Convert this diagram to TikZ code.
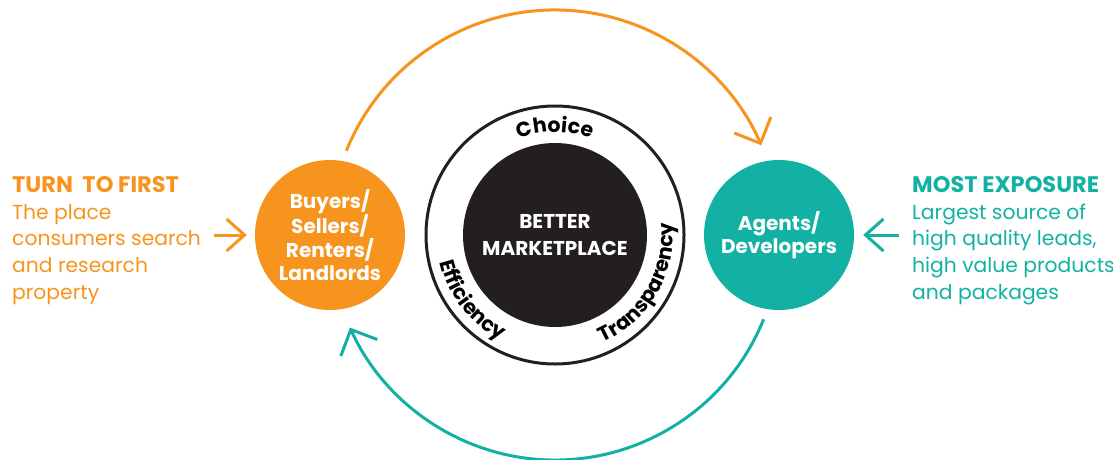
\documentclass[tikz,border=0pt]{standalone}
\usepackage{fontspec}
\setmainfont{Poppins}
\usetikzlibrary{positioning, arrows.meta, decorations.text}
\definecolor{brandorange}{HTML}{F7941D}
\definecolor{brandteal}{HTML}{13B1A3}
\definecolor{ink}{HTML}{231F20}
\newcommand{\blurbhead}[1]{{\bfseries\fontsize{22.5}{27}\selectfont #1}}

\begin{document}
\begin{tikzpicture}[x=1pt, y=1pt,
    hub/.style={circle, inner sep=0pt, minimum size=150pt, text=white, align=center, font=\bfseries\fontsize{20}{23.5}\selectfont},
    feed/.style={line width=3pt, -{Straight Barb[length=18pt, width=32pt]}},
    swing/.style={line width=3pt, -{Straight Barb[length=20pt, width=40pt]}},
    blurb/.style={align=left, inner sep=0pt, anchor=north west, font=\fontsize{20.3}{26.8}\selectfont},
    ringword/.style={decorate, decoration={text along path, text align=center, text={|\bfseries\fontsize{20.5}{20}\selectfont|#1}}}]
    \useasboundingbox (0,0) rectangle (1113,459);

    % marketplace in the middle
    \node (ring) [circle, draw=ink, line width=3pt, minimum size=258pt, inner sep=0pt] at (555,224) {};
    \node (core) [circle, fill=ink, minimum size=184pt, inner sep=0pt, text=white, align=center, font=\bfseries\fontsize{20}{27}\selectfont] at (ring.center) {BETTER\\MARKETPLACE};
    \path[ringword=Choice] ([shift={(150:103)}]ring.center) arc[start angle=150, end angle=30, radius=103];
    \path[ringword=Efficiency] ([shift={(173:118)}]ring.center) arc[start angle=173, end angle=263, radius=118];
    \path[ringword=Transparency] ([shift={(285:118)}]ring.center) arc[start angle=285, end angle=375, radius=118];

    % the two sides
    \node (buyers) [hub, fill=brandorange] at (330,224) {Buyers/\\Sellers/\\Renters/\\Landlords};
    \node (agents) [hub, fill=brandteal] at (779,224) {Agents/\\Developers};

    \node (turn) [blurb, text=brandorange] at (12,283) {\blurbhead{TURN\ \ TO FIRST}\\The place\\consumers search\\and research\\property};
    \node (expo) [blurb, text=brandteal] at (912,283) {\blurbhead{MOST EXPOSURE}\\Largest source of\\high quality leads,\\high value products\\and packages};

    \draw[feed, brandorange, shorten <=13pt, shorten >=8pt] (turn.east |- buyers.west) -- (buyers.west);
    \draw[feed, brandteal, shorten <=13pt, shorten >=9pt] (expo.west |- agents.east) -- (agents.east);

    % round trip between them
    \draw[swing, brandorange] ([shift={(158:225)}]ring.center) arc[start angle=158, end angle=23.5, radius=225];
    \draw[swing, brandteal] ([shift={(-22:225)}]ring.center) arc[start angle=-22, end angle=-155.7, radius=225];
\end{tikzpicture}
\end{document}
